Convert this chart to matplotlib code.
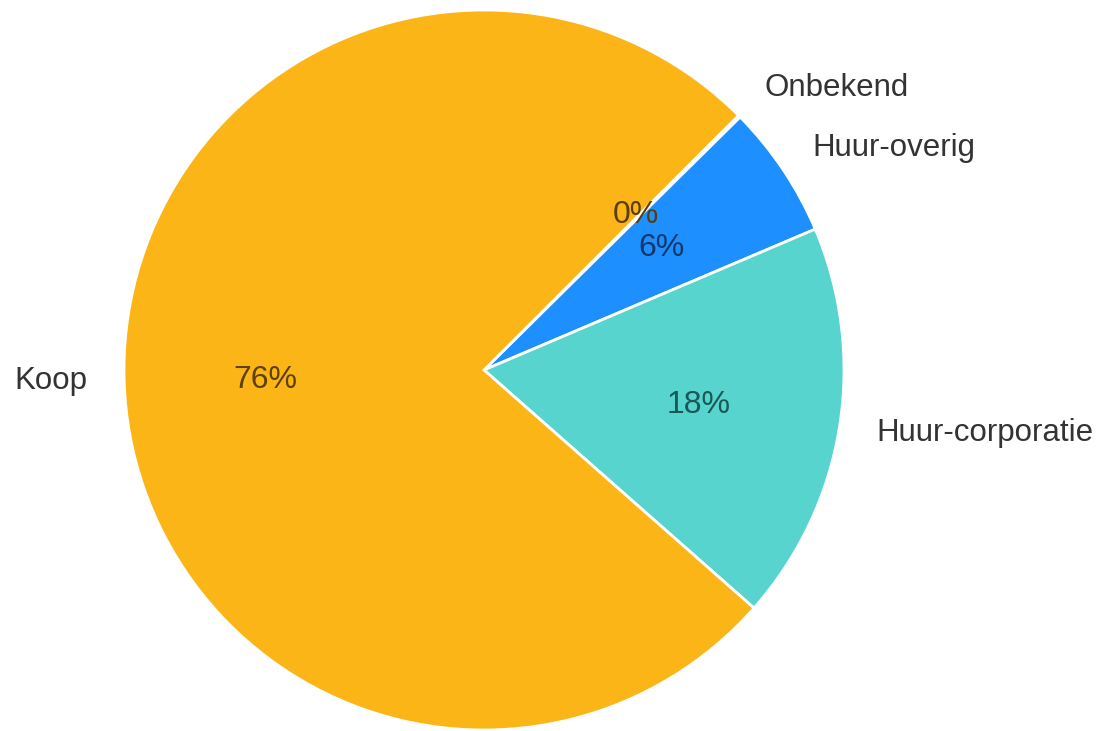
import matplotlib.pyplot as plt
import numpy as np

plt.rcParams['font.family'] = ['Liberation Sans', 'DejaVu Sans']

# categories and shares (percent)
categories = ["Onbekend", "Huur-overig", "Huur-corporatie", "Koop"]
shares = [0.1, 6.0, 17.9, 76.0]
pct_labels = ["0%", "6%", "18%", "76%"]

colors = ["#dddddd", "#1e8fff", "#58d4ce", "#fbb516"]
pct_colors = ["#5a3d05", "#12386b", "#175955", "#5e3f05"]

# label placement (data units, radius = 1)
label_pos = [(0.78, 0.783), (0.911, 0.617), (1.089, -0.175), (-1.103, -0.031)]
label_ha = ["left", "left", "left", "right"]
pct_pos = [(0.422, 0.431), (0.492, 0.339), (0.597, -0.097), (-0.606, -0.028)]

fig = plt.figure(figsize=(10.98, 7.31), dpi=100)
ax = fig.add_axes([124 / 1098, 1 - 730 / 731, 720 / 1098, 720 / 731])

ax.pie(shares, colors=colors, startangle=45, counterclock=False,
       wedgeprops=dict(edgecolor="white", linewidth=2))
ax.set_xlim(-1, 1)
ax.set_ylim(-1, 1)
ax.set_aspect("equal")
ax.axis("off")

for name, (x, y), ha in zip(categories, label_pos, label_ha):
    ax.text(x, y, name, ha=ha, va="center", fontsize=22.5, color="#333333",
            clip_on=False)

for txt, (x, y), c in zip(pct_labels, pct_pos, pct_colors):
    ax.text(x, y, txt, ha="center", va="center", fontsize=23, color=c)

fig.savefig("out.png", dpi=100)
